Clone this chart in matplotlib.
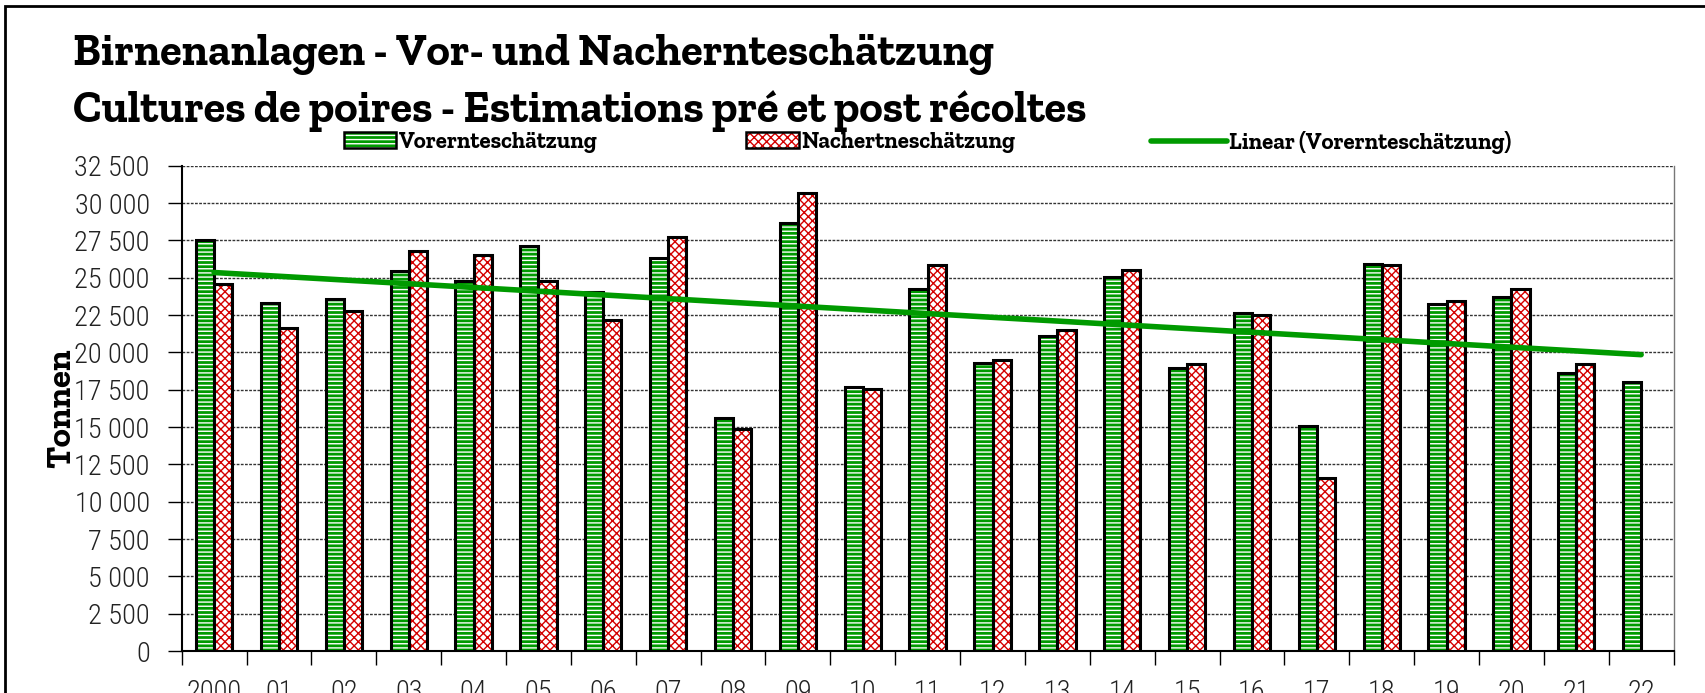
import matplotlib
matplotlib.use('Agg')
import matplotlib.pyplot as plt
from matplotlib.patches import Rectangle, Patch
from matplotlib.lines import Line2D
from matplotlib.ticker import FuncFormatter, MultipleLocator
import numpy as np

# Daten (Tonnen)
jahre = ['2000', '01', '02', '03', '04', '05', '06', '07', '08', '09', '10', '11',
         '12', '13', '14', '15', '16', '17', '18', '19', '20', '21', '22']
vorernte = [27500, 23300, 23550, 25430, 24750, 27100, 24020, 26300, 15620, 28640, 17680, 24220,
            19310, 21090, 25070, 18930, 22660, 15050, 25940, 23260, 23680, 18590, 18010]
nachernte = [24600, 21600, 22800, 26770, 26500, 24750, 22200, 27700, 14850, 30670, 17520, 25850,
             19510, 21520, 25510, 19220, 22520, 11600, 25830, 23460, 24220, 19220]

slab = ['Roboto Slab', 'Zilla Slab', 'DejaVu Serif']
cond = ['Roboto Condensed', 'Liberation Sans Narrow', 'DejaVu Sans']
gruen = '#009a00'
rot = '#d40000'

plt.rcParams['hatch.linewidth'] = 1.0

fig = plt.figure(figsize=(17.06, 6.93), dpi=100)
ax = fig.add_axes([0.1065, 0.0606, 0.8745, 0.7003])

x = np.arange(len(jahre))
w = 0.28
xg = x - w / 2
xr = x[:len(nachernte)] + w / 2

# Vorernte: grün mit weissen Querstreifen
ax.bar(xg, vorernte, w, color=gruen, edgecolor='white', hatch='----', linewidth=0, zorder=3)
ax.bar(xg, vorernte, w, facecolor='none', edgecolor='black', linewidth=2.2, zorder=4)
# Nachernte: rot/weiss kariert
ax.bar(xr, nachernte, w, color='white', edgecolor=rot, hatch='xxxx', linewidth=0, zorder=3)
ax.bar(xr, nachernte, w, facecolor='none', edgecolor='black', linewidth=2.2, zorder=4)

# lineare Trendlinie
k, d = np.polyfit(x, vorernte, 1)
ax.plot(x, k * x + d, color=gruen, lw=4, solid_capstyle='round', zorder=5)

ax.set_xlim(-0.5, len(jahre) - 0.5)
ax.set_ylim(0, 32500)
ax.yaxis.set_major_locator(MultipleLocator(2500))
ax.yaxis.set_major_formatter(FuncFormatter(lambda v, p: f'{int(v):,}'.replace(',', ' ')))
ax.set_xticks(x)
ax.set_xticklabels(jahre)
ax.set_xticks(np.arange(-0.5, len(jahre)), minor=True)
ax.tick_params(axis='x', which='major', length=0, pad=20, labelsize=20.5)
ax.tick_params(axis='x', which='minor', length=10, width=1, color='black', direction='out')
ax.tick_params(axis='y', length=10, width=1, pad=13, labelsize=20.5, direction='out')
for lab in ax.get_xticklabels() + ax.get_yticklabels():
    lab.set_family(cond)
    lab.set_fontweight('light')
    lab.set_color('#222222')

ax.grid(axis='y', color='#333333', linestyle=(0, (2, 1)), linewidth=1, zorder=0)
ax.spines['top'].set_visible(False)
ax.spines['right'].set_color('#777777')
ax.spines['right'].set_linewidth(1)
ax.spines['left'].set_linewidth(1.5)
ax.spines['bottom'].set_linewidth(1.5)

ax.set_ylabel('Tonnen', family=slab, fontweight='bold', fontsize=25)
ax.yaxis.set_label_coords(-0.070, 0.5)

fig.text(0.043, 0.906, 'Birnenanlagen - Vor- und Nacherntescätzung'.replace('escä', 'eschä'),
         family=slab, fontweight='bold', fontsize=32, va='baseline')
fig.text(0.043, 0.824, 'Cultures de poires - Estimations pré et post récoltes',
         family=slab, fontweight='bold', fontsize=32, va='baseline')

# Legende: drei einzelne Einträge über dem Diagramm
rahmen = dict(facecolor='none', edgecolor='black', linewidth=1.8)
eintraege = [
    ((Patch(facecolor=gruen, edgecolor='white', hatch='----', linewidth=0), Patch(**rahmen)),
     'Vorernteschätzung', 0.2015, 2.3),
    ((Patch(facecolor='white', edgecolor=rot, hatch='xxxx', linewidth=0), Patch(**rahmen)),
     'Nachertneschätzung', 0.4375, 2.3),
    (Line2D([0], [0], color=gruen, lw=4, solid_capstyle='round'),
     'Linear (Vorernteschätzung)', 0.6747, 3.3),
]
for handle, text, xpos, hl in eintraege:
    fig.legend([handle], [text], loc='center left', bbox_to_anchor=(xpos, 0.794),
               frameon=False, borderpad=0, borderaxespad=0, handlelength=hl,
               handleheight=0.66, handletextpad=0.1,
               prop={'family': slab, 'weight': 'bold', 'size': 16.5})

# äusserer Rahmen
fig.patches.append(Rectangle((5 / 1706, -0.1), 1.2, 1.1 - 6 / 693, transform=fig.transFigure,
                             fill=False, edgecolor='black', linewidth=2))

fig.savefig('out.png', dpi=100)
